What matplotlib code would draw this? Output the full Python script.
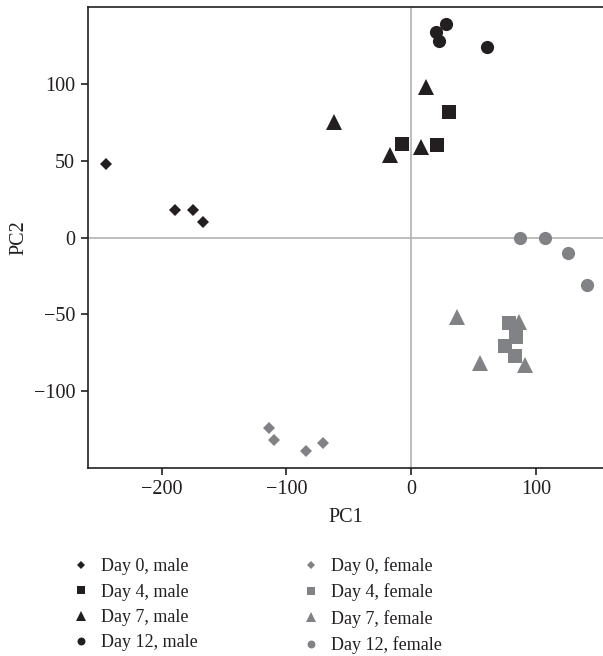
import matplotlib
matplotlib.use("Agg")
import matplotlib.pyplot as plt

plt.rcParams['font.family'] = ['Liberation Serif', 'DejaVu Serif']

DARK = '#231f20'
GREY = '#808285'

# PCA scores
d0_male_x = [-245, -189, -175, -167]
d0_male_y = [48, 18, 18, 10]
d4_male_x = [30, -7, 21]
d4_male_y = [82, 61, 60]
d7_male_x = [12, -62, -17, 8]
d7_male_y = [98, 75, 54, 59]
d12_male_x = [28, 20, 22, 61]
d12_male_y = [139, 134, 128, 124]

d0_fem_x = [-114, -110, -84, -71]
d0_fem_y = [-124, -132, -139, -134]
d4_fem_x = [78, 84, 75, 83]
d4_fem_y = [-56, -65, -71, -77]
d7_fem_x = [37, 55, 86, 91]
d7_fem_y = [-52, -82, -55, -83]
d12_fem_x = [87, 107, 126, 141]
d12_fem_y = [0, 0, -10, -31]

fig = plt.figure(figsize=(6.03, 6.56), dpi=100)
ax = fig.add_axes([0.1454, 0.287, 0.8546, 0.7028])

ax.axhline(0, color='#b3b3b3', lw=1.2, zorder=0)
ax.axvline(0, color='#b3b3b3', lw=1.2, zorder=0)

series = [
    (d0_male_x, d0_male_y, 'D', 6.5, DARK, 'Day 0, male'),
    (d4_male_x, d4_male_y, 's', 10, DARK, 'Day 4, male'),
    (d7_male_x, d7_male_y, '^', 12, DARK, 'Day 7, male'),
    (d12_male_x, d12_male_y, 'o', 9.5, DARK, 'Day 12, male'),
    (d0_fem_x, d0_fem_y, 'D', 6.5, GREY, 'Day 0, female'),
    (d4_fem_x, d4_fem_y, 's', 10, GREY, 'Day 4, female'),
    (d7_fem_x, d7_fem_y, '^', 12, GREY, 'Day 7, female'),
    (d12_fem_x, d12_fem_y, 'o', 9.5, GREY, 'Day 12, female'),
]
for xs, ys, m, ms, c, lab in series:
    ax.plot(xs, ys, linestyle='none', marker=m, markersize=ms, color=c,
            markeredgewidth=0, label=lab)

ax.set_xlim(-259.3, 153.7)
ax.set_ylim(-150, 150.4)
ax.set_xticks([-200, -100, 0, 100])
ax.set_yticks([-100, -50, 0, 50, 100])
ax.set_xticklabels(['\u2212200', '\u2212100', '0', '100'])
ax.set_yticklabels(['\u2212100', '\u221250', '0', '50', '100'])

for s in ['left', 'bottom', 'top']:
    ax.spines[s].set_color(DARK)
    ax.spines[s].set_linewidth(1.2)
ax.spines['right'].set_visible(False)
ax.tick_params(direction='out', length=5, width=1.2, color=DARK,
               labelsize=14.5, labelcolor=DARK, pad=4)

ax.set_xlabel('PC1', fontsize=14.5, color=DARK, labelpad=6)
ax.set_ylabel('PC2', fontsize=14.5, color=DARK, labelpad=4)

fig.legend(loc='upper left', bbox_to_anchor=(0.105, 0.164), ncol=2,
           frameon=False, fontsize=13, markerscale=0.6, handlelength=1.0,
           handletextpad=0.6, labelspacing=0.46, columnspacing=5.75,
           labelcolor=DARK, borderpad=0)

fig.savefig('out.png', dpi=100)
